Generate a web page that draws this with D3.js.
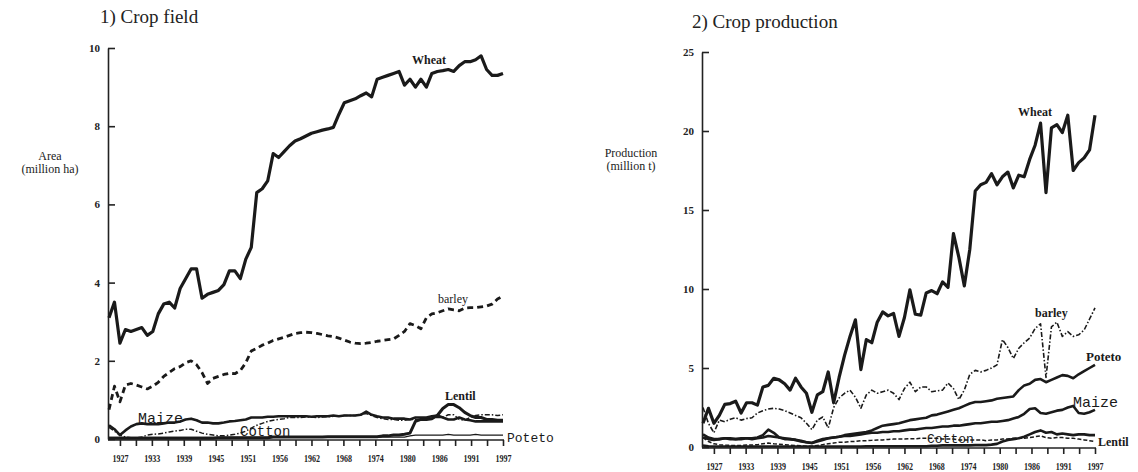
<!DOCTYPE html>
<html>
<head>
<meta charset="utf-8">
<script src="https://cdn.jsdelivr.net/npm/d3@7"></script>
<style>
  body { margin: 0; background: #fff; }
  svg { display: block; }
  .tick line, .domain { stroke: #222; stroke-width: 1.6px; }
  .tick text { font-family: "Liberation Serif", serif; font-weight: bold; fill: #222; }
</style>
</head>
<body>
<svg id="chart" width="1138" height="472"></svg>
<script>
// Years covered by both panels
const years = d3.range(1925, 1998);

// Tick labels printed under every second tick of the year axis
const yearTickLabels = ["1927", "1933", "1939", "1945", "1951", "1956", "1962",
                        "1968", "1974", "1980", "1986", "1991", "1997"];
const areaTicks = [0, 2, 4, 6, 8, 10];
const prodTicks = [0, 5, 10, 15, 20, 25];

// ---- Panel 1: cultivated area (million ha), 1925–1997 ----
const areaWheat = [
  3.1, 3.5, 2.45, 2.8, 2.75, 2.8, 2.85, 2.65, 2.75, 3.2,
  3.45, 3.5, 3.35, 3.85, 4.1, 4.35, 4.35, 3.6, 3.7, 3.75,
  3.8, 3.95, 4.3, 4.3, 4.1, 4.6, 4.9, 6.3, 6.4, 6.6,
  7.3, 7.2, 7.35, 7.5, 7.62, 7.68, 7.75, 7.82, 7.86, 7.9,
  7.93, 7.97, 8.3, 8.6, 8.65, 8.7, 8.78, 8.85, 8.75, 9.2,
  9.25, 9.3, 9.35, 9.4, 9.05, 9.2, 9.0, 9.2, 9.0, 9.35,
  9.4, 9.42, 9.45, 9.4, 9.55, 9.65, 9.65, 9.7, 9.8, 9.45,
  9.3, 9.3, 9.35];
const areaBarley = [
  0.75, 1.35, 0.95, 1.38, 1.42, 1.38, 1.33, 1.28, 1.35, 1.45,
  1.6, 1.7, 1.8, 1.85, 1.95, 2.0, 1.9, 1.7, 1.42, 1.55,
  1.6, 1.65, 1.68, 1.67, 1.75, 1.95, 2.25, 2.32, 2.4, 2.45,
  2.52, 2.56, 2.6, 2.65, 2.7, 2.72, 2.73, 2.72, 2.7, 2.67,
  2.64, 2.62, 2.58, 2.53, 2.48, 2.45, 2.44, 2.45, 2.47, 2.5,
  2.52, 2.54, 2.56, 2.65, 2.75, 2.95, 2.9, 2.82, 3.1, 3.2,
  3.23, 3.28, 3.33, 3.3, 3.28, 3.35, 3.36, 3.36, 3.38, 3.4,
  3.45, 3.58, 3.65];
const areaMaize = [
  0.35, 0.25, 0.1, 0.22, 0.32, 0.38, 0.4, 0.38, 0.38, 0.38,
  0.4, 0.42, 0.42, 0.45, 0.5, 0.52, 0.48, 0.42, 0.42, 0.4,
  0.4, 0.42, 0.45, 0.46, 0.48, 0.5, 0.55, 0.55, 0.55, 0.57,
  0.57, 0.58, 0.58, 0.58, 0.58, 0.58, 0.58, 0.57, 0.58, 0.58,
  0.58, 0.6, 0.58, 0.6, 0.6, 0.6, 0.62, 0.7, 0.62, 0.58,
  0.55, 0.55, 0.52, 0.52, 0.52, 0.5, 0.55, 0.55, 0.55, 0.58,
  0.6, 0.55, 0.5, 0.5, 0.55, 0.5, 0.48, 0.45, 0.45, 0.45,
  0.45, 0.45, 0.45];
const areaCotton = [
  0.3, 0.2, 0.1, 0.05, 0.03, 0.03, 0.05, 0.1, 0.12, 0.13,
  0.15, 0.18, 0.2, 0.22, 0.25, 0.25, 0.2, 0.15, 0.12, 0.1,
  0.08, 0.08, 0.1, 0.12, 0.15, 0.2, 0.28, 0.35, 0.4, 0.45,
  0.48, 0.5, 0.52, 0.55, 0.55, 0.55, 0.56, 0.56, 0.55, 0.56,
  0.57, 0.58, 0.58, 0.6, 0.6, 0.6, 0.63, 0.65, 0.6, 0.55,
  0.52, 0.5, 0.5, 0.48, 0.48, 0.5, 0.5, 0.5, 0.52, 0.55,
  0.55, 0.55, 0.62, 0.62, 0.5, 0.48, 0.55, 0.6, 0.62, 0.62,
  0.62, 0.6, 0.62];
const areaLentil = [
  0.02, 0.02, 0.02, 0.02, 0.02, 0.02, 0.02, 0.02, 0.02, 0.02,
  0.02, 0.02, 0.02, 0.02, 0.02, 0.02, 0.02, 0.02, 0.02, 0.02,
  0.03, 0.03, 0.03, 0.03, 0.03, 0.03, 0.03, 0.03, 0.03, 0.03,
  0.05, 0.05, 0.05, 0.05, 0.05, 0.05, 0.05, 0.05, 0.05, 0.05,
  0.06, 0.06, 0.06, 0.06, 0.06, 0.06, 0.06, 0.06, 0.06, 0.06,
  0.08, 0.08, 0.1, 0.1, 0.12, 0.15, 0.45, 0.5, 0.5, 0.52,
  0.6, 0.78, 0.88, 0.88, 0.8, 0.68, 0.6, 0.55, 0.55, 0.5,
  0.5, 0.48, 0.48];
const areaPoteto = [
  0.04, 0.04, 0.04, 0.04, 0.04, 0.04, 0.04, 0.04, 0.04, 0.04,
  0.04, 0.04, 0.04, 0.04, 0.04, 0.04, 0.04, 0.04, 0.04, 0.04,
  0.04, 0.04, 0.04, 0.04, 0.04, 0.04, 0.04, 0.04, 0.04, 0.04,
  0.04, 0.04, 0.04, 0.04, 0.04, 0.04, 0.04, 0.04, 0.04, 0.04,
  0.04, 0.04, 0.04, 0.04, 0.04, 0.04, 0.04, 0.04, 0.04, 0.04,
  0.05, 0.05, 0.05, 0.05, 0.05, 0.08, 0.1, 0.1, 0.1, 0.1,
  0.1, 0.1, 0.12, 0.1, 0.1, 0.1, 0.1, 0.12, 0.1, 0.1,
  0.1, 0.1, 0.1];

// ---- Panel 2: production (million t), 1925–1997 ----
const prodWheat = [
  1.5, 2.45, 1.5, 2.0, 2.7, 2.75, 2.9, 2.15, 2.8, 2.8,
  2.65, 3.8, 3.9, 4.35, 4.25, 4.0, 3.6, 4.35, 3.8, 3.4,
  2.2, 3.3, 3.5, 4.75, 2.8, 4.4, 5.8, 7.0, 8.05, 4.9,
  6.8, 6.6, 7.9, 8.55, 8.3, 8.45, 7.0, 8.2, 9.95, 8.4,
  8.35, 9.75, 9.9, 9.7, 10.45, 10.1, 13.5, 12.0, 10.2, 12.5,
  16.2, 16.6, 16.75, 17.3, 16.6, 17.1, 17.4, 16.4, 17.2, 17.1,
  18.2, 19.1, 20.5, 16.1, 20.2, 20.4, 19.9, 21.0, 17.5, 18.0,
  18.3, 18.8, 21.0];
const prodBarley = [
  2.5, 1.5, 0.9, 1.7, 1.6, 1.75, 1.85, 1.7, 1.8, 1.85,
  2.15, 2.3, 2.4, 2.45, 2.4, 2.3, 2.15, 2.0, 1.85, 1.5,
  1.1, 1.7, 1.9, 1.2, 2.5, 3.1, 3.4, 3.6, 3.15, 2.45,
  3.3, 3.6, 3.4, 3.5, 3.6, 3.4, 3.0, 3.7, 4.1, 3.5,
  3.8, 3.8, 3.5, 3.55, 3.6, 4.05, 3.7, 3.0, 3.6, 4.6,
  4.85, 4.75, 4.85, 5.0, 5.2, 6.8, 6.3, 5.6, 6.25, 6.6,
  6.9, 7.5, 7.8, 4.4, 7.6, 7.9, 7.0, 7.3, 7.0, 7.1,
  7.4, 8.1, 8.8];
const prodPoteto = [
  0.6, 0.5, 0.45, 0.5, 0.55, 0.55, 0.5, 0.55, 0.55, 0.55,
  0.6, 0.75, 1.1, 0.9, 0.6, 0.5, 0.5, 0.45, 0.35, 0.3,
  0.25, 0.35, 0.45, 0.55, 0.6, 0.65, 0.75, 0.8, 0.85, 0.9,
  0.95, 1.05, 1.2, 1.35, 1.4, 1.45, 1.5, 1.6, 1.7, 1.75,
  1.8, 1.85, 2.0, 2.05, 2.15, 2.25, 2.35, 2.45, 2.6, 2.75,
  2.85, 2.85, 2.9, 2.95, 3.05, 3.1, 3.15, 3.2, 3.6, 3.9,
  4.0, 4.25, 4.3, 4.1, 4.25, 4.4, 4.55, 4.5, 4.35, 4.6,
  4.8, 5.0, 5.2];
const prodMaize = [
  0.8, 0.6, 0.5, 0.5, 0.55, 0.5, 0.5, 0.5, 0.55, 0.5,
  0.55, 0.6, 0.7, 0.65, 0.6, 0.55, 0.5, 0.45, 0.4, 0.3,
  0.25, 0.4, 0.5, 0.55, 0.6, 0.65, 0.7, 0.7, 0.75, 0.8,
  0.85, 0.9, 0.9, 0.95, 0.95, 1.0, 1.0, 1.05, 1.1, 1.1,
  1.15, 1.2, 1.2, 1.25, 1.3, 1.3, 1.35, 1.35, 1.4, 1.45,
  1.5, 1.5, 1.55, 1.6, 1.6, 1.65, 1.7, 1.8, 1.9, 2.1,
  2.4, 2.45, 2.15, 2.1, 2.2, 2.3, 2.35, 2.5, 2.6, 2.15,
  2.1, 2.2, 2.35];
const prodCotton = [
  0.6, 0.35, 0.2, 0.15, 0.12, 0.1, 0.1, 0.1, 0.12, 0.12,
  0.15, 0.2, 0.25, 0.2, 0.18, 0.15, 0.12, 0.1, 0.08, 0.05,
  0.05, 0.1, 0.15, 0.2, 0.25, 0.3, 0.3, 0.35, 0.35, 0.4,
  0.4, 0.42, 0.45, 0.45, 0.48, 0.5, 0.5, 0.5, 0.52, 0.52,
  0.55, 0.55, 0.55, 0.55, 0.5, 0.5, 0.5, 0.45, 0.45, 0.45,
  0.45, 0.45, 0.4, 0.45, 0.45, 0.5, 0.5, 0.55, 0.55, 0.55,
  0.6, 0.65, 0.7, 0.6, 0.55, 0.6, 0.6, 0.55, 0.55, 0.5,
  0.45, 0.4, 0.35];
const prodLentil = [
  0.1, 0.05, 0.03, 0.03, 0.03, 0.03, 0.03, 0.03, 0.03, 0.03,
  0.03, 0.03, 0.03, 0.03, 0.03, 0.03, 0.03, 0.03, 0.03, 0.03,
  0.03, 0.03, 0.03, 0.03, 0.03, 0.03, 0.03, 0.03, 0.03, 0.03,
  0.05, 0.05, 0.05, 0.05, 0.05, 0.05, 0.05, 0.05, 0.05, 0.05,
  0.05, 0.05, 0.08, 0.08, 0.1, 0.1, 0.1, 0.1, 0.1, 0.1,
  0.12, 0.12, 0.12, 0.15, 0.2, 0.35, 0.45, 0.5, 0.55, 0.65,
  0.8, 0.95, 1.05, 0.9, 0.95, 0.8, 0.85, 0.8, 0.75, 0.8,
  0.8, 0.75, 0.75];

const svg = d3.select("#chart");

// Draws one panel: axes, titles, crop lines and their name tags.
function drawPanel(cfg) {
  const x = d3.scaleLinear().domain([1925, 1997]).range(cfg.xRange);
  const y = d3.scaleLinear().domain(cfg.yDomain).range(cfg.yRange);
  const g = svg.append("g");

  // Year axis: 25 evenly spaced ticks, every second one labelled
  const tickVals = d3.range(25).map(i => 1927 + i * 70 / 24);
  const xAxis = d3.axisBottom(x)
    .tickValues(tickVals)
    .tickSize(6)
    .tickSizeOuter(0)
    .tickPadding(8)
    .tickFormat((d, i) => i % 2 === 0 ? yearTickLabels[i / 2] : "");
  const gx = g.append("g")
    .attr("transform", `translate(0,${cfg.yRange[0] + 1})`)
    .call(xAxis);
  gx.select(".domain").attr("d", `M${cfg.xRange[0] - 1},0H${cfg.xRange[1] + 1}`);
  gx.selectAll(".tick text")
    .style("font-size", "11px")
    .filter(function () { return this.textContent !== ""; })
    .attr("textLength", 16)
    .attr("lengthAdjust", "spacingAndGlyphs");

  // Value axis with inward ticks
  const yAxis = d3.axisLeft(y)
    .tickValues(cfg.yTicks)
    .tickSize(-7)
    .tickSizeOuter(0)
    .tickPadding(8)
    .tickFormat(d3.format("d"));
  const gy = g.append("g")
    .attr("transform", `translate(${cfg.xRange[0] - 1},0)`)
    .call(yAxis);
  gy.selectAll(".tick text").style("font-size", "11px");

  // Panel title and axis caption
  g.append("text")
    .attr("x", cfg.title.x).attr("y", cfg.title.y)
    .style("font-family", "Liberation Serif, serif")
    .style("font-size", "19px")
    .attr("fill", "#222")
    .text(cfg.title.text);
  const cap = g.append("text")
    .attr("text-anchor", "middle")
    .style("font-family", "Liberation Serif, serif")
    .style("font-size", "12px")
    .attr("fill", "#222");
  cfg.caption.lines.forEach((t, i) => {
    cap.append("tspan")
      .attr("x", cfg.caption.x)
      .attr("y", cfg.caption.y + i * 13)
      .text(t);
  });

  // Crop lines
  cfg.series.forEach(s => {
    const line = d3.line()
      .x((d, i) => x(years[i]))
      .y(d => y(d));
    g.append("path")
      .datum(s.values)
      .attr("fill", "none")
      .attr("stroke", "#1a1a1a")
      .attr("stroke-width", s.width)
      .attr("stroke-dasharray", s.dash || null)
      .attr("stroke-linejoin", "round")
      .attr("stroke-linecap", "butt")
      .attr("d", line);
  });

  // Name tags beside the lines
  cfg.labels.forEach(l => {
    g.append("text")
      .attr("x", l.x).attr("y", l.y)
      .style("font-family", l.mono ? "Liberation Mono, monospace" : "Liberation Serif, serif")
      .style("font-size", l.size + "px")
      .style("font-weight", l.bold ? "bold" : "normal")
      .style("letter-spacing", l.spacing || 0)
      .attr("fill", "#1a1a1a")
      .text(l.text);
  });
}

drawPanel({
  xRange: [109, 503],
  yDomain: [0, 10],
  yRange: [439, 48],
  yTicks: areaTicks,
  title: { text: "1) Crop field", x: 100, y: 23 },
  caption: { lines: ["Area", "(million ha)"], x: 50, y: 160 },
  series: [
    { values: areaPoteto, width: 1.2 },
    { values: areaLentil, width: 3 },
    { values: areaCotton, width: 1.5, dash: "5,2,1.5,2" },
    { values: areaMaize, width: 2.6 },
    { values: areaBarley, width: 2.8, dash: "6,4" },
    { values: areaWheat, width: 3.2 }
  ],
  labels: [
    { text: "Wheat", x: 412, y: 64, size: 12, bold: true },
    { text: "barley", x: 438, y: 303, size: 12 },
    { text: "Lentil", x: 445, y: 400, size: 12, bold: true },
    { text: "Maize", x: 138, y: 423, size: 15, mono: true },
    { text: "Cotton", x: 240, y: 436, size: 14, mono: true },
    { text: "Poteto", x: 507, y: 442, size: 13, mono: true }
  ]
});

drawPanel({
  xRange: [703, 1095],
  yDomain: [0, 25],
  yRange: [447, 52],
  yTicks: prodTicks,
  title: { text: "2) Crop production", x: 692, y: 28 },
  caption: { lines: ["Production", "(million t)"], x: 631, y: 157 },
  series: [
    { values: prodCotton, width: 1.5, dash: "4,2" },
    { values: prodLentil, width: 2.6 },
    { values: prodMaize, width: 2.6 },
    { values: prodPoteto, width: 2.6 },
    { values: prodBarley, width: 1.6, dash: "5,2,1.5,2" },
    { values: prodWheat, width: 3.2 }
  ],
  labels: [
    { text: "Wheat", x: 1018, y: 116, size: 12, bold: true },
    { text: "barley", x: 1035, y: 317, size: 12, bold: true },
    { text: "Poteto", x: 1086, y: 361, size: 13, bold: true },
    { text: "Maize", x: 1073, y: 407, size: 15, mono: true },
    { text: "Cotton", x: 927, y: 443, size: 13, mono: true },
    { text: "Lentil", x: 1098, y: 446, size: 12, bold: true }
  ]
});
</script>
</body>
</html>
